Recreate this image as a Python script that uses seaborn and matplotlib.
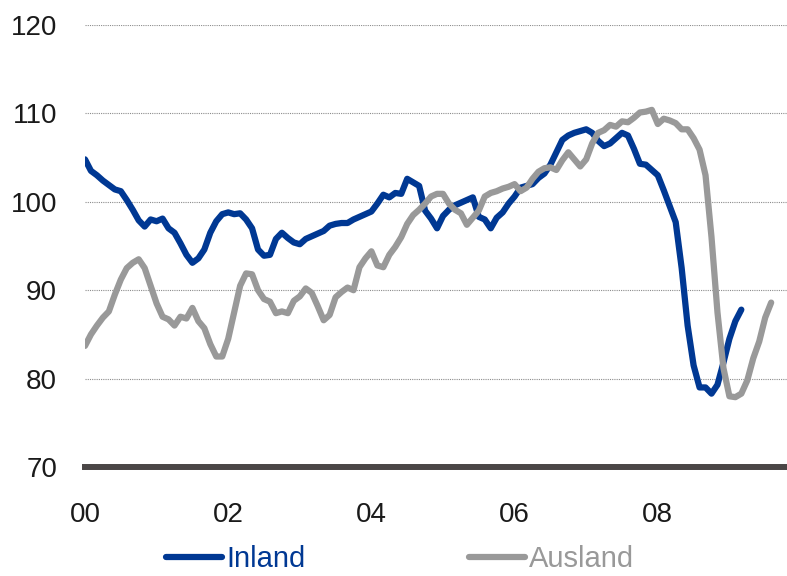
import numpy as np
import pandas as pd
import matplotlib
matplotlib.use("Agg")
import matplotlib.pyplot as plt
import seaborn as sns
from matplotlib.lines import Line2D

# Monthly index values, starting January 2000
inland = [
    104.8, 103.5, 103.0, 102.4, 101.9, 101.4, 101.2, 100.2, 99.1, 97.9, 97.2, 98.0,
    97.8, 98.1, 97.0, 96.5, 95.3, 94.0, 93.1, 93.6, 94.6, 96.5, 97.8, 98.6,
    98.8, 98.6, 98.7, 98.0, 97.0, 94.6, 93.9, 94.0, 95.8, 96.5, 95.9, 95.4,
    95.2, 95.8, 96.1, 96.4, 96.7, 97.3, 97.5, 97.6, 97.6, 98.0, 98.3, 98.6,
    98.9, 99.8, 100.8, 100.5, 101.0, 100.9, 102.6, 102.2, 101.8, 99.0, 98.1, 97.0,
    98.4, 99.1, 99.6, 99.9, 100.2, 100.5, 98.3, 98.0, 97.0, 98.2, 98.8, 99.8,
    100.6, 101.6, 101.8, 102.0, 102.7, 103.2, 104.2, 105.6, 107.0, 107.5, 107.8, 108.0,
    108.2, 107.8, 106.9, 106.3, 106.6, 107.2, 107.8, 107.5, 106.0, 104.3, 104.2, 103.6,
    103.0, 101.3, 99.5, 97.7, 92.5, 86.0, 81.5, 79.0, 79.0, 78.3, 79.3, 81.8,
    84.5, 86.5, 87.8,
]
ausland = [
    83.7, 85.0, 86.0, 86.9, 87.6, 89.5, 91.2, 92.5, 93.1, 93.5, 92.5, 90.5,
    88.5, 87.0, 86.7, 86.0, 87.0, 86.8, 88.0, 86.5, 85.7, 83.9, 82.5, 82.5,
    84.5, 87.5, 90.5, 91.9, 91.8, 90.0, 89.0, 88.7, 87.4, 87.6, 87.4, 88.8,
    89.3, 90.2, 89.7, 88.2, 86.6, 87.2, 89.2, 89.8, 90.3, 90.0, 92.6, 93.6,
    94.4, 92.8, 92.6, 94.0, 94.9, 96.0, 97.5, 98.5, 99.1, 99.8, 100.6, 100.9,
    100.9, 99.8, 99.1, 98.7, 97.4, 98.2, 99.0, 100.6, 101.0, 101.2, 101.5, 101.7,
    102.0, 101.2, 101.6, 102.6, 103.4, 103.8, 103.9, 103.6, 104.7, 105.6, 104.8, 104.0,
    104.8, 106.6, 107.8, 108.1, 108.7, 108.5, 109.1, 109.0, 109.5, 110.1, 110.2, 110.4,
    108.8, 109.4, 109.2, 108.9, 108.2, 108.2, 107.2, 105.9, 103.0, 96.0, 87.5, 81.2,
    78.0, 77.9, 78.3, 79.8, 82.3, 84.2, 86.9, 88.6,
]
series_names = ["Inland", "Ausland"]
series_colors = ["#003893", "#999999"]
x_ticks = [2000, 2002, 2004, 2006, 2008]
x_tick_labels = ["00", "02", "04", "06", "08"]
y_ticks = [70, 80, 90, 100, 110, 120]

df = pd.concat([
    pd.DataFrame({"t": 2000 + np.arange(len(inland)) / 12, "v": inland, "s": "Inland"}),
    pd.DataFrame({"t": 2000 + np.arange(len(ausland)) / 12, "v": ausland, "s": "Ausland"}),
])

sns.set_style("white")
plt.rcParams["font.family"] = ["Liberation Sans", "DejaVu Sans"]

fig = plt.figure(figsize=(7.87, 5.76), dpi=100)
ax = fig.add_axes([85 / 787, 109 / 576, 702 / 787, 442 / 576])

sns.lineplot(data=df, x="t", y="v", hue="s", hue_order=series_names,
             palette=series_colors, linewidth=4.5, ax=ax, legend=False,
             zorder=3)

ax.set_xlim(2000, 2000 + 702 / 71.6)
ax.set_ylim(70, 120)
ax.set_xticks(x_ticks)
ax.set_xticklabels(x_tick_labels)
ax.set_yticks(y_ticks)
ax.set_xlabel("")
ax.set_ylabel("")

for y in y_ticks[1:]:
    ax.axhline(y, color="#8c8c8c", linewidth=0.8, linestyle=(0, (1, 1)), zorder=1)

for s in ["top", "right", "left"]:
    ax.spines[s].set_visible(False)
ax.spines["bottom"].set_color("#4a4646")
ax.spines["bottom"].set_linewidth(4.3)
ax.spines["bottom"].set_zorder(4)

ax.tick_params(axis="both", length=0, labelsize=20, colors="#1a1a1a")
ax.tick_params(axis="x", pad=25)
ax.tick_params(axis="y", pad=20)

handles = [Line2D([0], [0], color=c, linewidth=4.5, solid_capstyle="round")
           for c in series_colors]
leg = fig.legend(handles, series_names, loc="center", bbox_to_anchor=(0.508, 0.029),
                 ncol=2, frameon=False, fontsize=21, handlelength=1.95,
                 handletextpad=0.12, columnspacing=5.6, borderpad=0.2)
for txt, c in zip(leg.get_texts(), series_colors):
    txt.set_color(c)

fig.savefig("out.png", dpi=100)
